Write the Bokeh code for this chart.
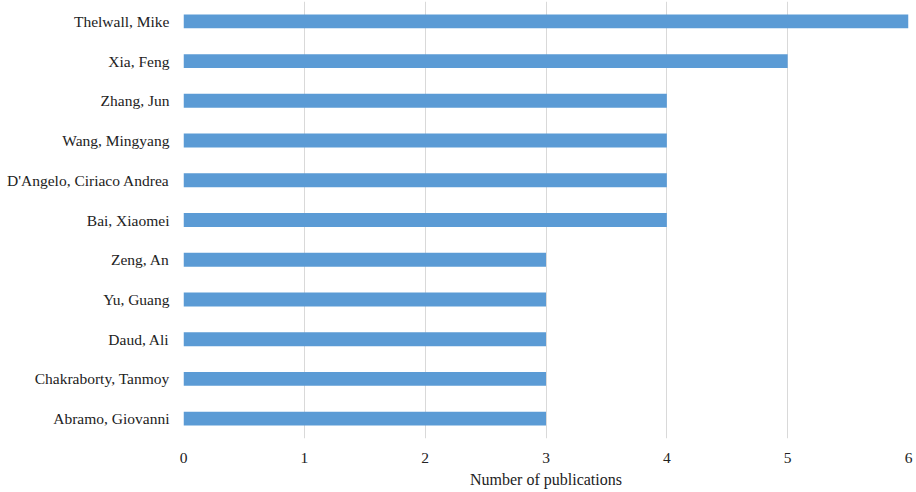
from bokeh.plotting import figure
from bokeh.models import ColumnDataSource, FactorRange, Range1d, FixedTicker
from bokeh.embed import file_html
from bokeh.resources import INLINE

authors = ["Thelwall, Mike", "Xia, Feng", "Zhang, Jun", "Wang, Mingyang",
           "D'Angelo, Ciriaco Andrea", "Bai, Xiaomei", "Zeng, An", "Yu, Guang",
           "Daud, Ali", "Chakraborty, Tanmoy", "Abramo, Giovanni"]
publications = [6, 5, 4, 4, 4, 4, 3, 3, 3, 3, 3]
x_ticks = [0, 1, 2, 3, 4, 5, 6]

src = ColumnDataSource(dict(author=authors, pubs=publications))

FONT = "'Liberation Serif', 'Times New Roman', serif"

p = figure(width=916, height=492, output_backend="svg", toolbar_location=None,
           y_range=FactorRange(factors=list(reversed(authors)), range_padding=0),
           x_range=Range1d(0, 6),
           min_border_left=183, min_border_right=8, min_border_top=1,
           min_border_bottom=54)

p.hbar(y="author", right="pubs", left=0, height=0.35, source=src,
       fill_color="#5B9BD5", line_color=None)

p.outline_line_color = None
p.ygrid.grid_line_color = None
p.xgrid.grid_line_color = "#D9D9D9"
p.xgrid.grid_line_width = 1
p.xaxis.ticker = FixedTicker(ticks=x_ticks)

for ax in (p.xaxis[0], p.yaxis[0]):
    ax.axis_line_color = None
    ax.major_tick_line_color = None
    ax.minor_tick_line_color = None
    ax.major_label_text_font = FONT
    ax.major_label_text_font_size = "15.5px"
    ax.major_label_text_color = "#222222"

p.yaxis.major_label_standoff = 8
p.xaxis.major_label_standoff = 8
p.xaxis.axis_label = "Number of publications"
p.xaxis.axis_label_text_font = FONT
p.xaxis.axis_label_text_font_style = "normal"
p.xaxis.axis_label_text_font_size = "16px"
p.xaxis.axis_label_text_color = "#222222"
p.xaxis.axis_label_standoff = 5

open("out.html", "w").write(file_html(p, INLINE))
